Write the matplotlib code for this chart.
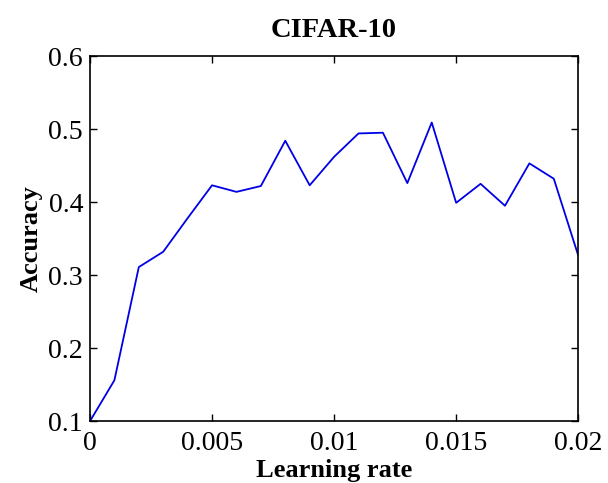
import numpy as np
import matplotlib
matplotlib.use('Agg')
import matplotlib.pyplot as plt

# learning rate sweep vs. accuracy
lr = [0.000, 0.001, 0.002, 0.003, 0.004, 0.005, 0.006, 0.007, 0.008, 0.009, 0.010,
      0.011, 0.012, 0.013, 0.014, 0.015, 0.016, 0.017, 0.018, 0.019, 0.020]
acc = [0.100, 0.156, 0.311, 0.332, 0.378, 0.423, 0.414, 0.422, 0.484, 0.423, 0.462,
       0.494, 0.495, 0.426, 0.509, 0.399, 0.425, 0.395, 0.453, 0.432, 0.327]
xticks = [0, 0.005, 0.01, 0.015, 0.02]
xticklabels = ['0', '0.005', '0.01', '0.015', '0.02']
yticks = [0.1, 0.2, 0.3, 0.4, 0.5, 0.6]

plt.rcParams['font.family'] = 'Liberation Serif'
fig = plt.figure(figsize=(6.08, 4.83), dpi=100)
ax = fig.add_axes([0.148, 0.128, 0.803, 0.756])
ax.plot(lr, acc, color='#0000e6', linewidth=1.3)

ax.set_xlim(0, 0.02)
ax.set_ylim(0.1, 0.6)
ax.set_xticks(xticks)
ax.set_xticklabels(xticklabels)
ax.set_yticks(yticks)
ax.set_yticklabels(['%.1f' % v for v in yticks])
ax.tick_params(direction='in', top=True, right=True, length=5, width=1,
               labelsize=20)
ax.tick_params(axis='x', pad=7)
ax.tick_params(axis='y', pad=5)
for s in ax.spines.values():
    s.set_linewidth(1.2)

ax.set_title('CIFAR-10', fontsize=20.5, fontweight='bold', pad=14)
ax.set_xlabel('Learning rate', fontsize=19, fontweight='bold', labelpad=2)
ax.set_ylabel('Accuracy', fontsize=19, fontweight='bold')
ax.yaxis.set_label_coords(-0.096, 0.5)

fig.savefig('out.png', dpi=100)
